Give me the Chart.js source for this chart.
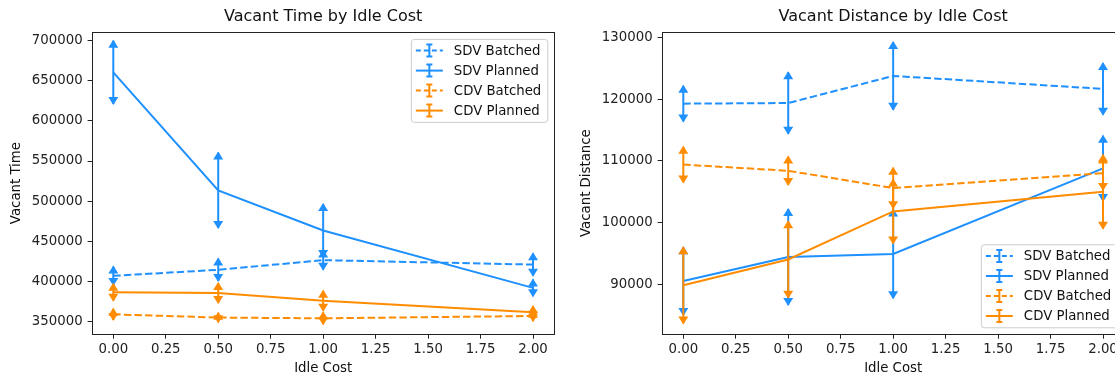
<!DOCTYPE html>
<html>
<head>
<meta charset="utf-8">
<script src="https://cdn.jsdelivr.net/npm/chart.js@4.4.1/dist/chart.umd.min.js"></script>
<style>
  body { margin: 0; width: 1115px; height: 378px; overflow: hidden; background: #fff; position: relative; }
  canvas { position: absolute; top: 0; }
  #timeChart { left: 0; }
  #distChart { left: 570px; }
</style>
</head>
<body>
<canvas id="timeChart" width="580" height="378"></canvas>
<canvas id="distChart" width="580" height="378"></canvas>
<script>
// idle cost values on the x axis
const idleCost = [0, 0.5, 1, 2];
const idleTicks = [0, 0.25, 0.5, 0.75, 1, 1.25, 1.5, 1.75, 2];
const idleRange = [-0.1, 2.1];

const seriesNames = ['SDV Batched', 'SDV Planned', 'CDV Batched', 'CDV Planned'];

// vacant time
const timeSdvBatched = [407000, 414500, 426500, 421000];
const timeSdvBatchedErr = [11500, 14000, 12000, 14000];
const timeSdvPlanned = [660500, 513500, 463500, 392000];
const timeSdvPlannedErr = [39500, 47000, 33000, 10500];
const timeCdvBatched = [359000, 355000, 354000, 357000];
const timeCdvBatchedErr = [7000, 6000, 7500, 6500];
const timeCdvPlanned = [386500, 385500, 376000, 361500];
const timeCdvPlannedErr = [10500, 12500, 12500, 8000];
const timeTicks = [350000, 400000, 450000, 500000, 550000, 600000, 650000, 700000];
const timeRange = [334500, 710500];

// vacant distance
const distSdvBatched = [119300, 119400, 123800, 121700];
const distSdvBatchedErr = [2900, 5000, 5500, 4200];
const distSdvPlanned = [90500, 94400, 94900, 108800];
const distSdvPlannedErr = [5500, 7800, 7200, 5300];
const distCdvBatched = [109400, 108400, 105600, 108000];
const distCdvBatchedErr = [2900, 2300, 3300, 2700];
const distCdvPlanned = [89800, 94000, 101800, 105000];
const distCdvPlannedErr = [6200, 6200, 5200, 6000];
const distTicks = [90000, 100000, 110000, 120000, 130000];
const distRange = [81900, 130900];

const BLUE = '#1E90FF';
const ORANGE = '#FF8C00';
const FONT = '"DejaVu Sans", sans-serif';
const DASH = [7.4, 3.2];

function series(name, vals, errs, color, dashed, i) {
  return {
    label: name,
    data: idleCost.map((c, k) => ({ x: c, y: vals[k] })),
    errors: errs,
    borderColor: color,
    backgroundColor: color,
    borderWidth: 2,
    borderDash: dashed ? DASH : [],
    pointRadius: 0,
    fill: false,
    tension: 0,
    order: 4 - i
  };
}

// vertical error bars with arrow heads, drawn right after each line
const errorBars = {
  id: 'errorBars',
  afterDatasetDraw(chart, args) {
    const ds = chart.data.datasets[args.index];
    if (!ds.errors) return;
    const { ctx, scales: { x, y } } = chart;
    ctx.save();
    ctx.strokeStyle = ds.borderColor;
    ctx.fillStyle = ds.borderColor;
    ctx.lineWidth = 2;
    ds.data.forEach((p, k) => {
      const px = x.getPixelForValue(p.x);
      const top = y.getPixelForValue(p.y + ds.errors[k]);
      const bot = y.getPixelForValue(p.y - ds.errors[k]);
      ctx.beginPath();
      ctx.moveTo(px, top);
      ctx.lineTo(px, bot);
      ctx.stroke();
      [[top, 1], [bot, -1]].forEach(([py, dir]) => {
        ctx.beginPath();
        ctx.moveTo(px, py - dir);
        ctx.lineTo(px - 5, py + dir * 7);
        ctx.lineTo(px + 5, py + dir * 7);
        ctx.closePath();
        ctx.fill();
      });
    });
    ctx.restore();
  }
};

// axes frame + legend inside the plot, like matplotlib
const frameLegend = {
  id: 'frameLegend',
  afterDraw(chart, args, opts) {
    const { ctx, chartArea: a } = chart;
    ctx.save();
    ctx.strokeStyle = '#222';
    ctx.lineWidth = 1;
    ctx.strokeRect(Math.round(a.left) + 0.5, Math.round(a.top) + 0.5,
      Math.round(a.right - a.left), Math.round(a.bottom - a.top));

    ctx.font = '13.3px ' + FONT;
    const sets = chart.data.datasets;
    const tw = Math.max(...sets.map(d => ctx.measureText(d.label).width));
    const w = 5 + 27 + 11 + tw + 6;
    const h = 83;
    const bx = a.right - 6.7 - w;
    const by = opts.loc === 'upper right' ? a.top + 6.7 : a.bottom - 6.7 - h;
    ctx.beginPath();
    ctx.roundRect(bx + 0.5, by + 0.5, w, h, 3);
    ctx.fillStyle = 'rgba(255,255,255,0.8)';
    ctx.fill();
    ctx.strokeStyle = '#cccccc';
    ctx.stroke();

    sets.forEach((d, i) => {
      const ry = by + 11.7 + i * 20;
      const x0 = bx + 5, x1 = x0 + 27, xm = (x0 + x1) / 2;
      ctx.strokeStyle = d.borderColor;
      ctx.lineWidth = 2;
      ctx.setLineDash(d.borderDash.length ? [5, 3] : []);
      ctx.beginPath();
      ctx.moveTo(x0, ry);
      ctx.lineTo(x1, ry);
      ctx.stroke();
      ctx.setLineDash([]);
      ctx.beginPath();
      ctx.moveTo(xm, ry - 6); ctx.lineTo(xm, ry + 6);
      ctx.moveTo(xm - 3, ry - 6); ctx.lineTo(xm + 3, ry - 6);
      ctx.moveTo(xm - 3, ry + 6); ctx.lineTo(xm + 3, ry + 6);
      ctx.stroke();
      ctx.fillStyle = '#111';
      ctx.textBaseline = 'middle';
      ctx.textAlign = 'left';
      ctx.fillText(d.label, x1 + 11, ry + 1);
    });
    ctx.restore();
  }
};

function makeChart(id, title, yTitle, yTicks, yRange, sets, legendLoc) {
  const tickFont = { family: FONT, size: 13.3 };
  new Chart(document.getElementById(id), {
    type: 'line',
    data: { datasets: sets },
    options: {
      responsive: false,
      animation: false,
      layout: { padding: { left: 0, right: 26, top: 0, bottom: 0 } },
      plugins: {
        legend: { display: false },
        tooltip: { enabled: false },
        title: {
          display: true, text: title, fullSize: false,
          color: '#111', font: { family: FONT, size: 16, weight: 'normal' },
          padding: { top: 7, bottom: 6 }
        },
        frameLegend: { loc: legendLoc }
      },
      scales: {
        x: {
          type: 'linear',
          min: idleRange[0], max: idleRange[1],
          afterBuildTicks: s => { s.ticks = idleTicks.map(v => ({ value: v })); },
          afterFit: s => { s.height = 44; },
          ticks: { color: '#222', font: tickFont, padding: 3, maxRotation: 0, callback: v => v.toFixed(2) },
          grid: { drawOnChartArea: false, drawTicks: true, tickLength: 4.7, color: '#222' },
          border: { display: false },
          title: { display: true, text: 'Idle Cost', color: '#111', font: tickFont, padding: { top: 0, bottom: 1 } }
        },
        y: {
          type: 'linear',
          min: yRange[0], max: yRange[1],
          afterBuildTicks: s => { s.ticks = yTicks.map(v => ({ value: v })); },
          afterFit: s => { s.width = 92.3; },
          ticks: { color: '#222', font: tickFont, padding: 5, callback: v => String(v) },
          grid: { drawOnChartArea: false, drawTicks: true, tickLength: 4.7, color: '#222' },
          border: { display: false },
          title: { display: true, text: yTitle, color: '#111', font: tickFont, padding: { top: 9, bottom: 0 } }
        }
      }
    },
    plugins: [errorBars, frameLegend]
  });
}

makeChart('timeChart', 'Vacant Time by Idle Cost', 'Vacant Time', timeTicks, timeRange, [
  series(seriesNames[0], timeSdvBatched, timeSdvBatchedErr, BLUE, true, 0),
  series(seriesNames[1], timeSdvPlanned, timeSdvPlannedErr, BLUE, false, 1),
  series(seriesNames[2], timeCdvBatched, timeCdvBatchedErr, ORANGE, true, 2),
  series(seriesNames[3], timeCdvPlanned, timeCdvPlannedErr, ORANGE, false, 3)
], 'upper right');

makeChart('distChart', 'Vacant Distance by Idle Cost', 'Vacant Distance', distTicks, distRange, [
  series(seriesNames[0], distSdvBatched, distSdvBatchedErr, BLUE, true, 0),
  series(seriesNames[1], distSdvPlanned, distSdvPlannedErr, BLUE, false, 1),
  series(seriesNames[2], distCdvBatched, distCdvBatchedErr, ORANGE, true, 2),
  series(seriesNames[3], distCdvPlanned, distCdvPlannedErr, ORANGE, false, 3)
], 'lower right');
</script>
</body>
</html>
